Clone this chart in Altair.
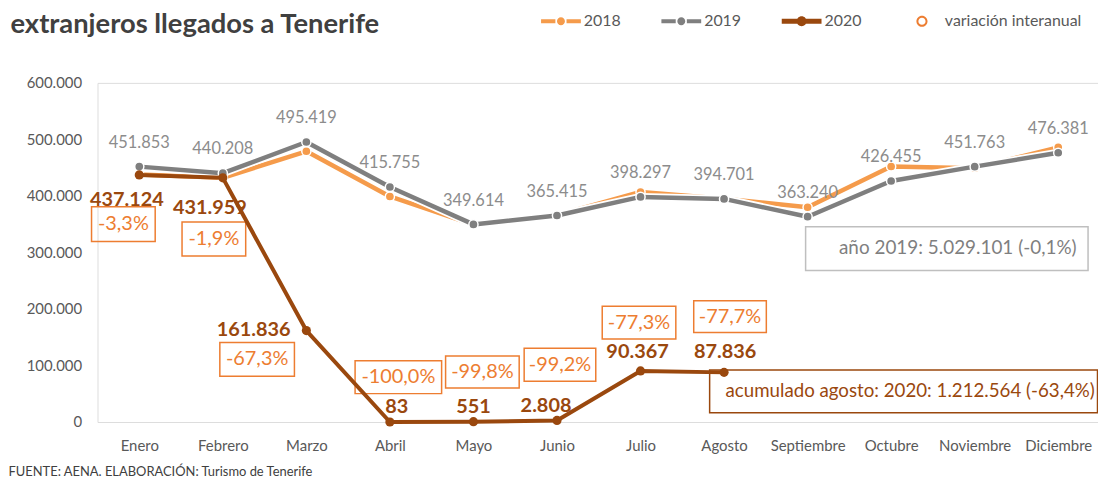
import altair as alt
import pandas as pd

# ---------------- data ----------------
months = ["Enero", "Febrero", "Marzo", "Abril", "Mayo", "Junio", "Julio",
          "Agosto", "Septiembre", "Octubre", "Noviembre", "Diciembre"]
v2018 = [438000, 432000, 479000, 399000, 349000, 366000, 407000, 395000,
         380000, 452000, 449000, 486000]
v2019 = [451853, 440208, 495419, 415755, 349614, 365415, 398297, 394701,
         363240, 426455, 451763, 476381]
v2020 = [437124, 431959, 161836, 83, 551, 2808, 90367, 87836]
var_2020 = [-3.3, -1.9, -67.3, -100.0, -99.8, -99.2, -77.3, -77.7]
y_ticks = [0, 100000, 200000, 300000, 400000, 500000, 600000]
legend_items = ["2018", "2019", "2020", "variación interanual"]
title_text = "extranjeros llegados a Tenerife"
source_text = "FUENTE: AENA. ELABORACIÓN: Turismo de Tenerife"
total_2019_text = "año 2019: 5.029.101 (-0,1%)"
acum_2020_text = "acumulado agosto: 2020: 1.212.564 (-63,4%)"

# ---------------- styles ----------------
C18 = "#F59B4B"
C19 = "#7F7F7F"
C20 = "#9A480E"
CPCT = "#ED7D31"
CLAB19 = "#8C8C8C"
CAXIS = "#595959"
FONT = "Lato"


def fmt_int(v):
    return f"{v:,}".replace(",", ".")


def fmt_pct(p):
    return f"{p:.1f}%".replace(".", ",")


rows = []
for m, v in zip(months, v2018):
    rows.append({"serie": "2018", "mes": m, "valor": v, "etiqueta": fmt_int(v), "pct": ""})
for m, v in zip(months, v2019):
    rows.append({"serie": "2019", "mes": m, "valor": v, "etiqueta": fmt_int(v), "pct": ""})
for m, v, p in zip(months, v2020, var_2020):
    rows.append({"serie": "2020", "mes": m, "valor": v, "etiqueta": fmt_int(v), "pct": fmt_pct(p)})
df = pd.DataFrame(rows)

X = alt.X(
    "mes:N", sort=months,
    scale=alt.Scale(type="point", domain=months, range=[42, 966], padding=0),
    axis=alt.Axis(
        title=source_text, labelAngle=0, ticks=False, domain=False, grid=False,
        labelFont=FONT, labelFontSize=15, labelColor=CAXIS, labelPadding=17,
        titleFont=FONT, titleFontSize=13, titleFontWeight="normal", titleColor="#404040",
        titleAnchor="start", titleAlign="left", titleBaseline="alphabetic",
        titleX=-90, titleY=54,
    ),
)
Y = alt.Y(
    "valor:Q",
    scale=alt.Scale(domain=[0, 600000], nice=False),
    axis=alt.Axis(
        title=title_text, values=y_ticks, ticks=False, domain=False, grid=False,
        labelExpr="replace(format(datum.value, ','), regexp(',', 'g'), '.')",
        labelFont=FONT, labelFontSize=15, labelColor=CAXIS, labelPadding=16,
        titleFont=FONT, titleFontSize=27.5, titleFontWeight="bold", titleColor="#404040",
        titleAngle=0, titleAlign="left", titleBaseline="alphabetic",
        titleX=-88, titleY=-51,
    ),
)

base = alt.Chart(df).encode(x=X, y=Y)
layers = []

# ---- percentage boxes (offsets from the 2020 point: dx, dy, width, height)
pct_box = {
    "Enero": (-16, 49.5, 64, 35),
    "Febrero": (-9, 61.5, 64, 34),
    "Marzo": (-49.5, 29, 75, 34),
    "Abril": (8.5, -45, 87, 33),
    "Mayo": (9, -50, 74, 32),
    "Junio": (3, -56, 72, 33),
    "Julio": (-1.5, -48.5, 74, 33),
    "Agosto": (6, -56, 73, 32),
}
for m, (ox, oy, w, h) in pct_box.items():
    b = base.transform_filter((alt.datum.serie == "2020") & (alt.datum.mes == m))
    layers.append(b.mark_rect(width=w, height=h, xOffset=ox, yOffset=oy,
                              filled=False, stroke=CPCT, strokeWidth=1.5))
    layers.append(b.mark_text(dx=ox, dy=oy, font=FONT, fontSize=20, color=CPCT,
                              align="center", baseline="middle").encode(text="pct:N"))

# ---- annotation boxes anchored on data points
b_sep19 = base.transform_filter((alt.datum.serie == "2019") & (alt.datum.mes == "Septiembre"))
layers.append(b_sep19.mark_rect(width=284, height=44, xOffset=140, yOffset=32,
                                filled=False, stroke="#BFBFBF", strokeWidth=1.5))
layers.append(b_sep19.mark_text(dx=151, dy=31.5, font=FONT, fontSize=19, color=C19,
                                align="center", baseline="middle").encode(text=alt.value(total_2019_text)))
b_ago20 = base.transform_filter((alt.datum.serie == "2020") & (alt.datum.mes == "Agosto"))
layers.append(b_ago20.mark_rect(width=390, height=43, xOffset=180.5, yOffset=19,
                                filled=False, stroke=C20, strokeWidth=1.5))
layers.append(b_ago20.mark_text(dx=1.5, dy=19, font=FONT, fontSize=18.8, color=C20,
                                align="left", baseline="middle").encode(text=alt.value(acum_2020_text)))


# ---- series
def series(name, color, width, halo):
    b = base.transform_filter(alt.datum.serie == name)
    out = []
    if halo:
        out.append(b.mark_line(color="white", strokeWidth=width + 3.5, strokeJoin="round"))
    out.append(b.mark_line(color=color, strokeWidth=width, strokeJoin="round"))
    out.append(b.mark_point(filled=True, fill=color, size=85, opacity=1,
                            stroke="white" if halo else color,
                            strokeWidth=1.5 if halo else 0))
    return out


layers += series("2018", C18, 4.5, True)
layers += series("2019", C19, 4.5, True)
layers += series("2020", C20, 4, False)

# ---- value labels
b19 = base.transform_filter(alt.datum.serie == "2019")
layers.append(b19.mark_text(dy=-24, font=FONT, fontSize=16.5, color=CLAB19,
                            align="center", baseline="middle").encode(text="etiqueta:N"))

lab20 = {
    "Enero": (-12.5, 25), "Febrero": (-13, 30), "Marzo": (-53, -1), "Abril": (7, -15.5),
    "Mayo": (0, -15), "Junio": (-11, -14.5), "Julio": (-3, -19), "Agosto": (1, -20.5),
}
for m, (ox, oy) in lab20.items():
    b = base.transform_filter((alt.datum.serie == "2020") & (alt.datum.mes == m))
    layers.append(b.mark_text(dx=ox, dy=oy, font=FONT, fontSize=20, fontWeight="bold",
                              color=C20, align="center", baseline="middle").encode(text="etiqueta:N"))

# ---- legend (built by Vega-Lite from fill + shape scales)
sym_line_dot = ("M-1,-0.1H-0.28V0.1H-1Z M0.28,-0.1H1V0.1H0.28Z "
                "M-0.2,0A0.2,0.2 0 1,1 0.2,0A0.2,0.2 0 1,1 -0.2,0Z")
sym_line_dot2 = ("M-1,-0.13H1V0.13H-1Z "
                 "M-0.25,0A0.25,0.25 0 1,1 0.25,0A0.25,0.25 0 1,1 -0.25,0Z")
sym_ring = ("M-0.28,0A0.28,0.28 0 1,1 0.28,0A0.28,0.28 0 1,1 -0.28,0Z "
            "M-0.18,0A0.18,0.18 0 1,0 0.18,0A0.18,0.18 0 1,0 -0.18,0Z")
leg = alt.Legend(
    title=None, orient="none", legendX=446, legendY=-82, direction="horizontal",
    symbolSize=1600, symbolStrokeWidth=0, symbolOpacity=1, padding=0,
    labelFont=FONT, labelFontSize=16, labelColor=CAXIS, labelOffset=3,
    columnPadding=40,
)
layers.append(
    base.transform_filter("false").mark_point(filled=True, opacity=1, strokeWidth=0).encode(
        fill=alt.Fill("serie:N", scale=alt.Scale(domain=legend_items, range=[C18, C19, C20, CPCT]), legend=leg),
        shape=alt.Shape("serie:N", scale=alt.Scale(domain=legend_items,
                                                   range=[sym_line_dot, sym_line_dot, sym_line_dot2, sym_ring]),
                        legend=leg),
    )
)

chart = alt.layer(*layers).properties(
    width=1006, height=341,
    autosize=alt.AutoSizeParams(type="none"),
    padding={"left": 90, "top": 74, "right": 0, "bottom": 55},
).configure_view(stroke=None).configure(font=FONT)

chart.save("out.html", embed_options={"renderer": "svg", "actions": False})
